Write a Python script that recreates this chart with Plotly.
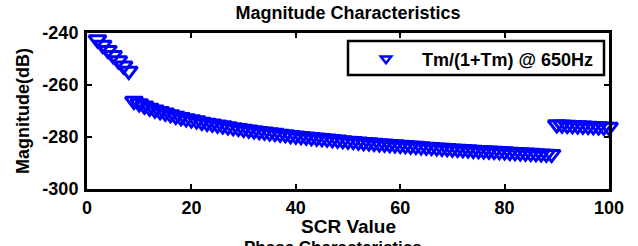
import plotly.graph_objects as go

# ---- data ----
scr_seg1 = [2, 3, 4, 5, 6, 7, 8]
mag_seg1 = [-242.5, -244.6, -246.6, -248.6, -250.6, -252.6, -254.6]

scr_seg2 = list(range(9, 90))
mag_seg2 = [-266.2, -267.1, -268.0, -268.8, -269.5, -270.1, -270.7, -271.3, -271.9, -272.4,
            -272.9, -273.3, -273.7, -274.2, -274.6, -274.9, -275.3, -275.6, -276.0, -276.3,
            -276.6, -276.9, -277.2, -277.5, -277.8, -278.0, -278.3, -278.5, -278.8, -279.0,
            -279.3, -279.5, -279.7, -279.9, -280.1, -280.3, -280.5, -280.7, -280.9, -281.1,
            -281.3, -281.5, -281.6, -281.8, -282.0, -282.1, -282.3, -282.5, -282.6, -282.8,
            -282.9, -283.1, -283.2, -283.4, -283.5, -283.7, -283.8, -283.9, -284.1, -284.2,
            -284.3, -284.5, -284.6, -284.7, -284.8, -285.0, -285.1, -285.2, -285.3, -285.4,
            -285.5, -285.6, -285.8, -285.9, -286.0, -286.1, -286.2, -286.3, -286.4, -286.5,
            -286.6]

scr_seg3 = list(range(90, 101))
mag_seg3 = [-275.2, -275.3, -275.4, -275.5, -275.6, -275.7, -275.8, -275.9, -276.0, -276.1, -276.2]

scr = scr_seg1 + scr_seg2 + scr_seg3
mag = mag_seg1 + mag_seg2 + mag_seg3

x_ticks = [0, 20, 40, 60, 80, 100]
x_ticktext = ["0", "20", "40", "60", "80", "100"]
y_ticks = [-300, -280, -260, -240]
y_ticktext = ["-300", "-280", "-260", "-240"]

series_name = "Tm/(1+Tm) @ 650Hz"
title_text = "Magnitude Characteristics"
x_title = "SCR Value"
y_title = "Magnitude(dB)"
next_title = "Phase Characteristics"

FONT = "Arial, Liberation Sans, Helvetica, sans-serif"
BLUE = "#0000FF"

fig = go.Figure()
fig.add_trace(go.Scatter(
    x=scr, y=mag, mode="markers", name=series_name, showlegend=False,
    cliponaxis=False,
    marker=dict(symbol="triangle-down-open", size=15, color=BLUE,
                line=dict(width=3, color=BLUE)),
))
# legend entry (smaller marker as in the reference legend)
fig.add_trace(go.Scatter(
    x=[None], y=[None], mode="markers", name=series_name, showlegend=True,
    marker=dict(symbol="triangle-down-open", size=9, color=BLUE,
                line=dict(width=2.5, color=BLUE)),
))

axis_common = dict(
    showline=True, linecolor="black", linewidth=3, mirror="allticks",
    ticks="inside", ticklen=5, tickwidth=2, tickcolor="black",
    showgrid=False, zeroline=False,
    tickfont=dict(family=FONT, size=18, color="black", weight="bold"),
)

fig.update_layout(
    width=638, height=246,
    margin=dict(l=87, r=29, t=33, b=57),
    paper_bgcolor="white", plot_bgcolor="white",
    font=dict(family=FONT, color="black"),
    title=dict(text=f"<b>{title_text}</b>", x=348 / 638, xanchor="center",
               y=1 - 13 / 246, yanchor="middle", yref="container",
               font=dict(family=FONT, size=18, color="black")),
    xaxis=dict(range=[0, 100], tickvals=x_ticks, ticktext=x_ticktext, **axis_common),
    yaxis=dict(range=[-300, -240], tickvals=y_ticks, ticktext=y_ticktext,
               ticklabelstandoff=2, **axis_common),
    showlegend=True,
    legend=dict(x=(350 - 87) / 522, xanchor="left", y=(189 - 59) / 156, yanchor="middle",
                bgcolor="rgba(0,0,0,0)", borderwidth=0, itemwidth=62,
                font=dict(family=FONT, size=18, color="black", weight="bold")),
    shapes=[dict(type="rect", xref="paper", yref="paper",
                 x0=(348 - 87) / 522, x1=(604 - 87) / 522,
                 y0=(189 - 75) / 156, y1=(189 - 41) / 156,
                 line=dict(color="black", width=2.5), fillcolor="rgba(0,0,0,0)",
                 layer="above")],
    annotations=[
        dict(text=f"<b>{x_title}</b>", xref="paper", yref="paper",
             x=0.5, y=(189 - 226) / 156, xanchor="center", yanchor="middle",
             showarrow=False, font=dict(family=FONT, size=19, color="black")),
        dict(text=f"<b>{y_title}</b>", xref="paper", yref="paper",
             x=(23 - 87) / 522, y=0.5, xanchor="center", yanchor="middle",
             textangle=-90, showarrow=False,
             font=dict(family=FONT, size=18, color="black")),
        dict(text=f"<b>{next_title}</b>", xref="paper", yref="paper",
             x=(333 - 87) / 522, y=(189 - 236) / 156, xanchor="center", yanchor="top",
             showarrow=False, font=dict(family=FONT, size=17, color="black")),
    ],
)

fig.write_html("out.html", config={"displayModeBar": False},
               post_script="document.body.style.margin='0';")
